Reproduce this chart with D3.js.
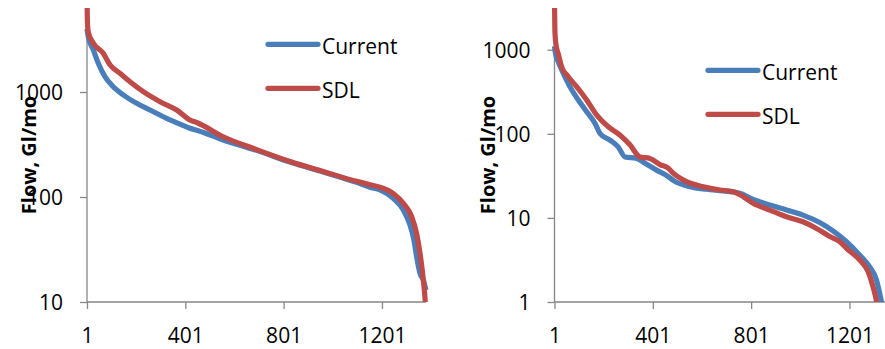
<!DOCTYPE html>
<html><head><meta charset="utf-8">
<script src="https://cdn.jsdelivr.net/npm/d3@7"></script>
<style>body{margin:0;background:#fff}svg{display:block}</style>
</head><body>
<svg id="c" width="885" height="349"></svg>
<script>
// ---- data (month rank, flow Gl/mo) ----
const seriesNames = ["Current", "SDL"];
const xTickLabels = [1, 401, 801, 1201];
const leftYTicks = [10, 100, 1000];
const rightYTicks = [1, 10, 100, 1000];

const leftCurrentRank = [1, 6, 27, 47, 74, 101, 149, 203, 257, 325, 379, 420, 454, 555, 691, 827, 962, 1098, 1152, 1193, 1247, 1288, 1315, 1331, 1342, 1356, 1370, 1380];
const leftCurrentFlow = [4000, 3365, 2512, 1875, 1400, 1166, 936, 780, 674, 562, 495, 451, 428, 349, 278, 215, 173, 138, 124, 117, 97, 75, 54, 39, 27, 18.7, 16, 13];
const leftSDLRank = [1, 3, 6, 27, 67, 95, 135, 176, 230, 298, 366, 420, 452, 555, 691, 827, 962, 1098, 1152, 1193, 1247, 1288, 1322, 1342, 1356, 1365, 1372, 1376, 1380];
const leftSDLFlow = [8000, 4500, 3750, 2910, 2340, 1806, 1507, 1253, 1007, 809, 674, 541, 507, 375, 283, 218, 175, 141, 131, 124, 108, 87, 65, 45, 29, 20, 14, 11, 8];

const rightCurrentRank = [1, 5, 16, 37, 64, 98, 132, 166, 186, 227, 260, 288, 335, 369, 416, 464, 484, 552, 620, 687, 755, 809, 877, 945, 1012, 1080, 1134, 1189, 1243, 1284, 1311, 1324, 1334, 1340];
const rightCurrentFlow = [1100, 900, 720, 524, 363, 252, 183, 133, 101, 84, 70, 53, 51, 44.6, 37, 31, 28, 23.5, 21.9, 20.9, 19.6, 16.6, 14.2, 12.4, 10.8, 8.8, 7.0, 5.2, 3.6, 2.6, 1.83, 1.27, 0.9, 0.7];
const rightSDLRank = [1, 3, 8, 16, 30, 57, 91, 132, 173, 220, 267, 308, 349, 389, 430, 464, 484, 538, 606, 674, 728, 769, 809, 877, 945, 1012, 1067, 1121, 1162, 1189, 1250, 1277, 1297, 1307, 1314, 1320];
const rightSDLFlow = [4000, 1567, 1100, 906, 628, 478, 363, 252, 167, 121, 97, 74, 53, 51, 43, 39, 34, 27, 23.5, 21.5, 20.5, 17.9, 14.9, 12.4, 10.3, 9.0, 7.5, 6.0, 5.2, 4.35, 3.0, 2.29, 1.52, 1.16, 0.9, 0.7];

const nMonths = 1380;
const colors = {Current: "#4A7EBB", SDL: "#BE4B48"};
const axisColor = "#868686";
const font = "'Open Sans', 'Liberation Sans', sans-serif";

const svg = d3.select("#c");

function panel(cfg) {
  const x = d3.scaleLinear().domain([1, nMonths]).range([cfg.x0, cfg.x0 + (nMonths - 1) * 0.2458]);
  const y = d3.scaleLog().domain(cfg.yDomain).range([302, 8]);
  const g = svg.append("g");
  const clipId = "clip" + cfg.id;
  svg.append("clipPath").attr("id", clipId).append("rect")
    .attr("x", cfg.x0 - 3).attr("y", 8).attr("width", 360).attr("height", 294);

  // y axis
  const ya = g.append("g").attr("transform", `translate(${cfg.x0},0)`)
    .call(d3.axisLeft(y).tickValues(cfg.yTicks).tickSize(7).tickPadding(17).tickFormat(d3.format("d")));
  ya.select(".domain").remove();
  ya.append("line").attr("x1", 0).attr("x2", 0).attr("y1", 8).attr("y2", 302).attr("stroke", axisColor).attr("stroke-width", 1.3);
  ya.selectAll(".tick line").attr("stroke", axisColor).attr("stroke-width", 1.3);
  ya.selectAll(".tick text").attr("fill", "#000").attr("font-family", font).attr("font-size", 21).attr("dy", "0.36em");

  // x axis
  const xa = g.append("g").attr("transform", "translate(0,302)")
    .call(d3.axisBottom(x).tickValues(xTickLabels).tickSize(7).tickPadding(19).tickFormat(d3.format("d")));
  xa.select(".domain").attr("stroke", axisColor).attr("stroke-width", 1.3).attr("d", `M${x.range()[0]},0H${x.range()[1]}`);
  xa.selectAll(".tick line").attr("stroke", axisColor).attr("stroke-width", 1.3);
  xa.selectAll(".tick text").attr("fill", "#000").attr("font-family", font).attr("font-size", 21);

  const line = d3.line().curve(d3.curveMonotoneX).x(d => x(d[0])).y(d => y(d[1]));
  const lg = g.append("g").attr("clip-path", `url(#${clipId})`);
  cfg.series.forEach(s => {
    const pts = s.rank.map((r, i) => [r, s.flow[i]]);
    lg.append("path").datum(pts).attr("d", line).attr("fill", "none")
      .attr("stroke", colors[s.name]).attr("stroke-width", 5.2)
      .attr("stroke-linejoin", "round").attr("stroke-linecap", "butt");
  });

  // y title
  g.append("text").attr("transform", `translate(${cfg.titleX},155) rotate(-90)`)
    .attr("text-anchor", "middle").attr("font-family", font).attr("font-weight", "bold")
    .attr("font-size", 20).text("Flow, Gl/mo");

  // legend
  seriesNames.forEach((n, i) => {
    const ly = cfg.legY + i * 44;
    g.append("line").attr("x1", cfg.legX).attr("x2", cfg.legX + 50).attr("y1", ly).attr("y2", ly)
      .attr("stroke", colors[n]).attr("stroke-width", 5.2).attr("stroke-linecap", "round");
    g.append("text").attr("x", cfg.legX + 54).attr("y", ly + 9.5)
      .attr("font-family", font).attr("font-size", 21).text(n);
  });
}

panel({id: "L", x0: 87, yDomain: [10, 6310], yTicks: leftYTicks, titleX: 36, legX: 268, legY: 44.3,
  series: [{name: "Current", rank: leftCurrentRank, flow: leftCurrentFlow},
           {name: "SDL", rank: leftSDLRank, flow: leftSDLFlow}]});
panel({id: "R", x0: 554.5, yDomain: [1, 3133], yTicks: rightYTicks, titleX: 495, legX: 708, legY: 70.3,
  series: [{name: "Current", rank: rightCurrentRank, flow: rightCurrentFlow},
           {name: "SDL", rank: rightSDLRank, flow: rightSDLFlow}]});
</script>
</body></html>
